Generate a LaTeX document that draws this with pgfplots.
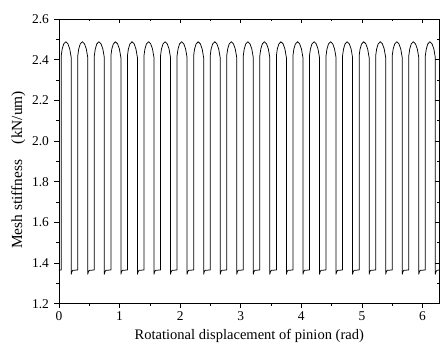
\documentclass[border=0pt]{standalone}
\usepackage{pgfplots}
\pgfplotsset{compat=1.18}
\usepackage{fontspec}
\setmainfont{Liberation Serif}
\begin{document}
\begin{tikzpicture}
\pgfplotsset{every axis/.append style={
  scale only axis, width=381bp, height=285bp,
  xmin=0, xmax=6.2832, ymin=1.2, ymax=2.6,
  xtick={0,1,2,3,4,5,6}, ytick={1.2,1.4,1.6,1.8,2.0,2.2,2.4,2.6},
  minor x tick num=1, minor y tick num=1,
  major tick length=4.5bp, minor tick length=2.5bp,
  tick style={black, line width=0.6pt},
  axis line style={black, line width=0.8pt},
  font=\fontsize{13.5}{16}\selectfont,
  /pgf/number format/assume math mode=true,
}}
\begin{axis}[
  tick align=outside, xtick pos=left, ytick pos=left,
  yticklabel style={xshift=-2bp, /pgf/number format/.cd, fixed, fixed zerofill, precision=1},
  xlabel={Rotational displacement of pinion (rad)},
  ylabel={Mesh stiffness\quad(kN/um)},
  xlabel style={yshift=-2bp, font=\fontsize{14.6}{17}\selectfont},
  ylabel style={at={(ticklabel cs:0.47)}, font=\fontsize{15.5}{18}\selectfont},
]
\addplot[black, line width=0.75pt, line join=round] coordinates {
(0,1.366)
(0.0380,1.366)(0.0380,2.420)(0.0530,2.452)(0.0780,2.477)(0.1130,2.488)(0.1480,2.478)(0.1780,2.453)(0.2030,2.410)(0.2030,1.345)(0.2130,1.357)(0.2280,1.364)
(0.3112,1.366)(0.3112,2.420)(0.3262,2.452)(0.3512,2.477)(0.3862,2.488)(0.4212,2.478)(0.4512,2.453)(0.4762,2.410)(0.4762,1.345)(0.4862,1.357)(0.5012,1.364)
(0.5844,1.366)(0.5844,2.420)(0.5994,2.452)(0.6244,2.477)(0.6594,2.488)(0.6944,2.478)(0.7244,2.453)(0.7494,2.410)(0.7494,1.345)(0.7594,1.357)(0.7744,1.364)
(0.8575,1.366)(0.8575,2.420)(0.8725,2.452)(0.8975,2.477)(0.9325,2.488)(0.9675,2.478)(0.9975,2.453)(1.0225,2.410)(1.0225,1.345)(1.0325,1.357)(1.0475,1.364)
(1.1307,1.366)(1.1307,2.420)(1.1457,2.452)(1.1707,2.477)(1.2057,2.488)(1.2407,2.478)(1.2707,2.453)(1.2957,2.410)(1.2957,1.345)(1.3057,1.357)(1.3207,1.364)
(1.4039,1.366)(1.4039,2.420)(1.4189,2.452)(1.4439,2.477)(1.4789,2.488)(1.5139,2.478)(1.5439,2.453)(1.5689,2.410)(1.5689,1.345)(1.5789,1.357)(1.5939,1.364)
(1.6771,1.366)(1.6771,2.420)(1.6921,2.452)(1.7171,2.477)(1.7521,2.488)(1.7871,2.478)(1.8171,2.453)(1.8421,2.410)(1.8421,1.345)(1.8521,1.357)(1.8671,1.364)
(1.9503,1.366)(1.9503,2.420)(1.9653,2.452)(1.9903,2.477)(2.0253,2.488)(2.0603,2.478)(2.0903,2.453)(2.1153,2.410)(2.1153,1.345)(2.1253,1.357)(2.1403,1.364)
(2.2235,1.366)(2.2235,2.420)(2.2385,2.452)(2.2635,2.477)(2.2985,2.488)(2.3335,2.478)(2.3635,2.453)(2.3885,2.410)(2.3885,1.345)(2.3985,1.357)(2.4135,1.364)
(2.4966,1.366)(2.4966,2.420)(2.5116,2.452)(2.5366,2.477)(2.5716,2.488)(2.6066,2.478)(2.6366,2.453)(2.6616,2.410)(2.6616,1.345)(2.6716,1.357)(2.6866,1.364)
(2.7698,1.366)(2.7698,2.420)(2.7848,2.452)(2.8098,2.477)(2.8448,2.488)(2.8798,2.478)(2.9098,2.453)(2.9348,2.410)(2.9348,1.345)(2.9448,1.357)(2.9598,1.364)
(3.0430,1.366)(3.0430,2.420)(3.0580,2.452)(3.0830,2.477)(3.1180,2.488)(3.1530,2.478)(3.1830,2.453)(3.2080,2.410)(3.2080,1.345)(3.2180,1.357)(3.2330,1.364)
(3.3162,1.366)(3.3162,2.420)(3.3312,2.452)(3.3562,2.477)(3.3912,2.488)(3.4262,2.478)(3.4562,2.453)(3.4812,2.410)(3.4812,1.345)(3.4912,1.357)(3.5062,1.364)
(3.5894,1.366)(3.5894,2.420)(3.6044,2.452)(3.6294,2.477)(3.6644,2.488)(3.6994,2.478)(3.7294,2.453)(3.7544,2.410)(3.7544,1.345)(3.7644,1.357)(3.7794,1.364)
(3.8625,1.366)(3.8625,2.420)(3.8775,2.452)(3.9025,2.477)(3.9375,2.488)(3.9725,2.478)(4.0025,2.453)(4.0275,2.410)(4.0275,1.345)(4.0375,1.357)(4.0525,1.364)
(4.1357,1.366)(4.1357,2.420)(4.1507,2.452)(4.1757,2.477)(4.2107,2.488)(4.2457,2.478)(4.2757,2.453)(4.3007,2.410)(4.3007,1.345)(4.3107,1.357)(4.3257,1.364)
(4.4089,1.366)(4.4089,2.420)(4.4239,2.452)(4.4489,2.477)(4.4839,2.488)(4.5189,2.478)(4.5489,2.453)(4.5739,2.410)(4.5739,1.345)(4.5839,1.357)(4.5989,1.364)
(4.6821,1.366)(4.6821,2.420)(4.6971,2.452)(4.7221,2.477)(4.7571,2.488)(4.7921,2.478)(4.8221,2.453)(4.8471,2.410)(4.8471,1.345)(4.8571,1.357)(4.8721,1.364)
(4.9553,1.366)(4.9553,2.420)(4.9703,2.452)(4.9953,2.477)(5.0303,2.488)(5.0653,2.478)(5.0953,2.453)(5.1203,2.410)(5.1203,1.345)(5.1303,1.357)(5.1453,1.364)
(5.2285,1.366)(5.2285,2.420)(5.2435,2.452)(5.2685,2.477)(5.3035,2.488)(5.3385,2.478)(5.3685,2.453)(5.3935,2.410)(5.3935,1.345)(5.4035,1.357)(5.4185,1.364)
(5.5016,1.366)(5.5016,2.420)(5.5166,2.452)(5.5416,2.477)(5.5766,2.488)(5.6116,2.478)(5.6416,2.453)(5.6666,2.410)(5.6666,1.345)(5.6766,1.357)(5.6916,1.364)
(5.7748,1.366)(5.7748,2.420)(5.7898,2.452)(5.8148,2.477)(5.8498,2.488)(5.8848,2.478)(5.9148,2.453)(5.9398,2.410)(5.9398,1.345)(5.9498,1.357)(5.9648,1.364)
(6.0480,1.366)(6.0480,2.420)(6.0630,2.452)(6.0880,2.477)(6.1230,2.488)(6.1580,2.478)(6.1880,2.453)(6.2130,2.410)(6.2130,1.345)(6.2230,1.357)(6.2380,1.364)
(6.2832,1.366)
};
\end{axis}
\begin{pgfinterruptboundingbox}
\begin{axis}[
  tick align=inside, xtick pos=right, ytick pos=right,
  xticklabels={}, yticklabels={},
]
\end{axis}
\end{pgfinterruptboundingbox}
\path ([yshift=19bp]current axis.north west) ([xshift=-59bp,yshift=-39bp]current axis.south west);
\end{tikzpicture}
\end{document}
